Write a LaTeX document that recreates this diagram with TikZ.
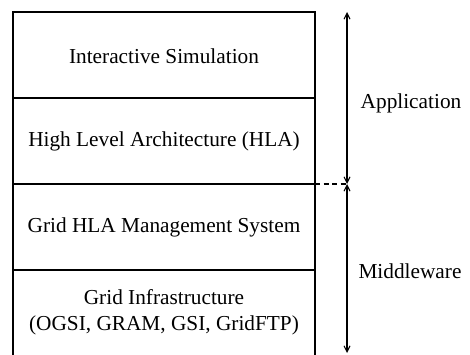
\documentclass[tikz,border=0pt]{standalone}
\usepackage{fontspec}
\setmainfont{Liberation Serif}
\usetikzlibrary{arrows.meta}
\begin{document}
\begin{tikzpicture}[x=1pt,y=-1pt,
  frame/.style={line width=1.3pt},
  layertext/.style={font=\fontsize{21.3}{26}\selectfont, align=center, inner sep=0pt},
  sidelabel/.style={font=\fontsize{21.3}{26}\selectfont, inner sep=0pt},
  span/.style={line width=1.1pt, {Straight Barb[length=6pt,width=6pt]}-{Straight Barb[length=6pt,width=6pt]}}]
  \useasboundingbox (0,0) rectangle (470,354);
  % stack outline
  \coordinate (tl) at (13,12);
  \coordinate (tr) at (315,12);
  \coordinate (bl) at (13,360);
  \coordinate (br) at (315,360);
  \coordinate (l1) at (13,98);   \coordinate (r1) at (315,98);
  \coordinate (l2) at (13,184);  \coordinate (r2) at (315,184);
  \coordinate (l3) at (13,270);  \coordinate (r3) at (315,270);
  \draw[frame] (bl) -- (tl) -- (tr) -- (br);
  \draw[frame] (l1) -- (r1);
  \draw[frame] (l2) -- (r2);
  \draw[frame] (l3) -- (r3);
  % layer labels
  \node[layertext] (sim) at (164,56) {Interactive Simulation};
  \node[layertext] (hla) at (164,141) {High Level Architecture (HLA)};
  \node[layertext] (ghla) at (164,227) {Grid HLA Management System};
  \node[layertext] (infra) at (164,312) {Grid Infrastructure\\(OGSI, GRAM, GSI, GridFTP)};
  % extent arrows
  \coordinate (atop) at (347,12);
  \coordinate (amid) at (347,184);
  \coordinate (abot) at (347,353);
  \draw[span] (atop) -- (amid);
  \draw[span] (amid) -- (abot);
  \draw[line width=1.1pt, dash pattern=on 5pt off 3.5pt] (r2) -- (amid);
  \node[sidelabel] (app) at (411,103) {Application};
  \node[sidelabel] (mid) at (410,271) {Middleware};
\end{tikzpicture}
\end{document}
